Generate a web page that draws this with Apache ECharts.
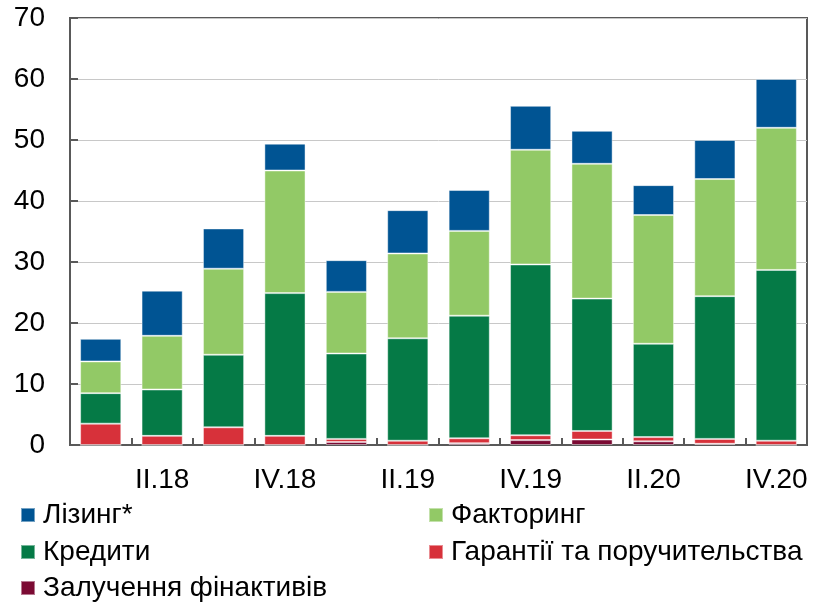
<!DOCTYPE html>
<html>
<head>
<meta charset="utf-8">
<script src="https://cdn.jsdelivr.net/npm/echarts@6/dist/echarts.min.js"></script>
<style>
  html, body { margin: 0; padding: 0; background: #fff; }
  #chart { width: 824px; height: 603px; }
</style>
</head>
<body>
<div id="chart"></div>
<script>
// квартали
var quarters = ['I.18', 'II.18', 'III.18', 'IV.18', 'I.19', 'II.19', 'III.19', 'IV.19', 'I.20', 'II.20', 'III.20', 'IV.20'];
// дані по видах послуг, млрд грн
var zaluchennya = [0, 0, 0, 0, 0.5, 0, 0.3, 0.8, 0.9, 0.6, 0.2, 0];
var garantii    = [3.5, 1.5, 2.9, 1.5, 0.5, 0.7, 0.8, 0.8, 1.4, 0.7, 0.8, 0.7];
var kredyty     = [5.0, 7.6, 11.9, 23.4, 14.0, 16.8, 20.1, 28.0, 21.7, 15.3, 23.4, 28.0];
var faktoryng   = [5.2, 8.8, 14.1, 20.1, 10.1, 13.9, 13.9, 18.8, 22.1, 21.1, 19.2, 23.3];
var lizyng      = [3.7, 7.4, 6.6, 4.4, 5.2, 7.1, 6.7, 7.2, 5.4, 4.9, 6.4, 8.0];
var yTicks = [0, 10, 20, 30, 40, 50, 60, 70];

var axisColor = '#595959';
var font = 'Liberation Sans, Arial, sans-serif';

function bar(name, data, color) {
  return {
    name: name,
    type: 'bar',
    stack: 'all',
    data: data,
    barCategoryGap: '33%',
    itemStyle: { color: color, borderColor: 'rgba(255,255,255,0.45)', borderWidth: 1 }
  };
}

function legendItem(name, left, top) {
  return {
    data: [name],
    left: left,
    top: top,
    padding: 0,
    itemWidth: 14,
    itemHeight: 14,
    itemGap: 0,
    icon: 'rect',
    textStyle: { fontFamily: font, fontSize: 28, lineHeight: 30, color: '#000', padding: [0, 0, 0, 3] }
  };
}

var chart = echarts.init(document.getElementById('chart'));
chart.setOption({
  animation: false,
  grid: {
    left: 70, right: 17, top: 18, bottom: 158,
    show: true, borderColor: axisColor, borderWidth: 2
  },
  legend: [
    legendItem('Лізинг*', 20, 500),
    legendItem('Факторинг', 428, 500),
    legendItem('Кредити', 20, 537),
    legendItem('Гарантії та поручительства', 428, 537),
    legendItem('Залучення фінактивів', 20, 573)
  ],
  xAxis: {
    type: 'category',
    data: quarters,
    axisLine: { lineStyle: { color: axisColor, width: 2 } },
    axisTick: { show: true, inside: true, length: 7, interval: 0, lineStyle: { color: axisColor, width: 2 } },
    axisLabel: {
      interval: function (i) { return i % 2 === 1; },
      color: '#000', fontFamily: font, fontSize: 28, margin: 21
    }
  },
  yAxis: {
    type: 'value',
    min: yTicks[0],
    max: yTicks[yTicks.length - 1],
    interval: 10,
    axisLine: { show: true, lineStyle: { color: axisColor, width: 2 } },
    axisTick: { show: true, inside: true, length: 8, lineStyle: { color: axisColor, width: 2 } },
    axisLabel: { color: '#000', fontFamily: font, fontSize: 28, margin: 25 },
    splitLine: { lineStyle: { color: '#c8c8c8', width: 1 } }
  },
  series: [
    bar('Залучення фінактивів', zaluchennya, '#7b0a33'),
    bar('Гарантії та поручительства', garantii, '#d7313a'),
    bar('Кредити', kredyty, '#057a46'),
    bar('Факторинг', faktoryng, '#92c966'),
    bar('Лізинг*', lizyng, '#005493')
  ]
});
</script>
</body>
</html>
